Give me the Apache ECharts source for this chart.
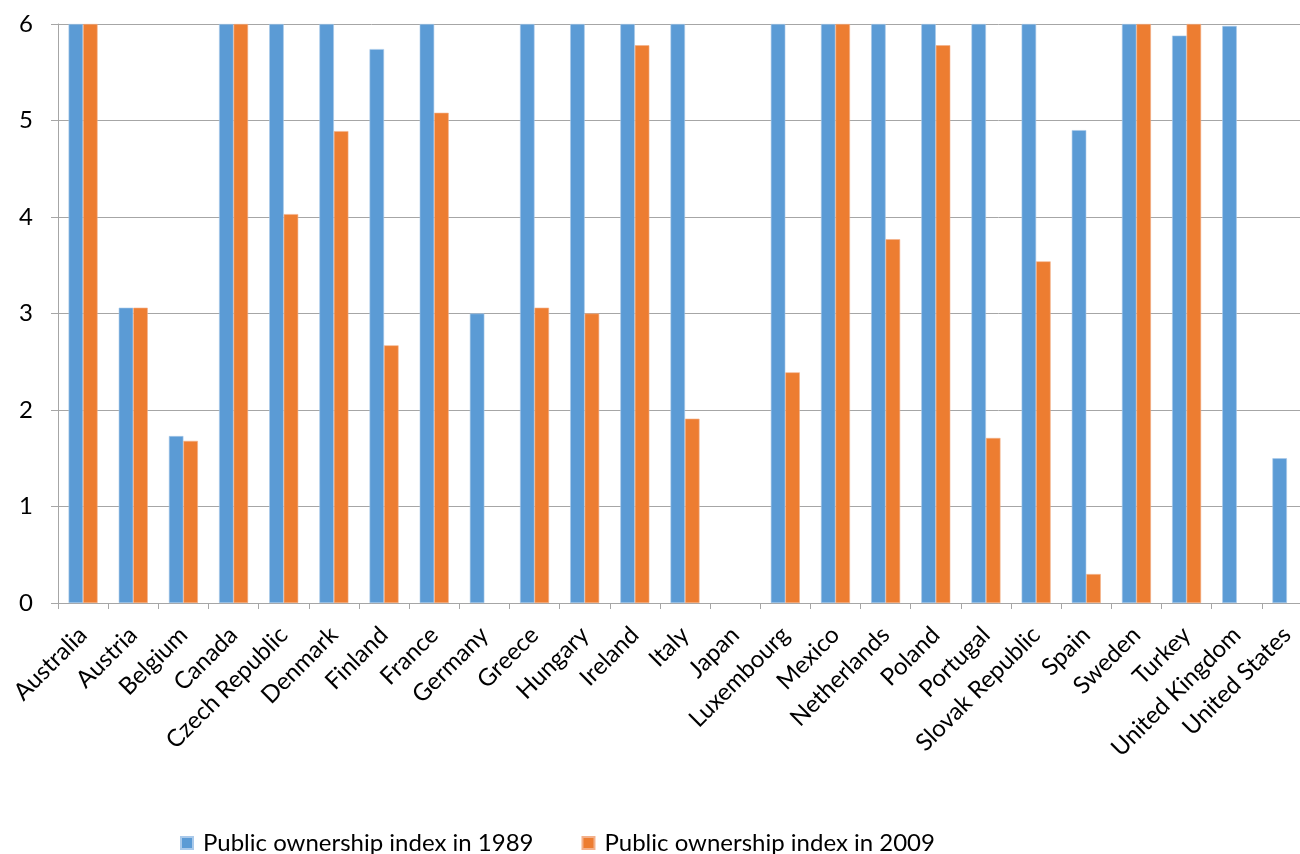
<!DOCTYPE html>
<html>
<head>
<meta charset="utf-8">
<script src="https://cdn.jsdelivr.net/npm/echarts@6/dist/echarts.min.js"></script>
<style>
  html, body { margin: 0; padding: 0; background: #ffffff; overflow: hidden; }
  /* the plot runs slightly past the right edge of the window */
  #chart { width: 1312px; height: 854px; }
</style>
</head>
<body>
<div id="chart"></div>
<script>
// Countries shown on the category axis
const countries = [
  'Australia', 'Austria', 'Belgium', 'Canada', 'Czech Republic', 'Denmark',
  'Finland', 'France', 'Germany', 'Greece', 'Hungary', 'Ireland', 'Italy',
  'Japan', 'Luxembourg', 'Mexico', 'Netherlands', 'Poland', 'Portugal',
  'Slovak Republic', 'Spain', 'Sweden', 'Turkey', 'United Kingdom', 'United States'
];

// Public ownership index, 1989 (null = no value)
const index1989 = [
  6, 3.06, 1.73, 6, 6, 6,
  5.74, 6, 3.0, 6, 6, 6, 6,
  null, 6, 6, 6, 6, 6,
  6, 4.90, 6, 5.88, 5.98, 1.50
];

// Public ownership index, 2009 (null = no value)
const index2009 = [
  6, 3.06, 1.68, 6, 4.03, 4.89,
  2.67, 5.08, null, 3.06, 3.0, 5.78, 1.91,
  null, 2.39, 6, 3.77, 5.78, 1.71,
  3.54, 0.30, 6, 6, null, null
];

const seriesNames = ['Public ownership index in 1989', 'Public ownership index in 2009'];
const yTicks = { min: 0, max: 6, interval: 1 };

const font = 'Lato, "Open Sans", sans-serif';
const chart = echarts.init(document.getElementById('chart'), null, { renderer: 'canvas' });

chart.setOption({
  animation: false,
  backgroundColor: '#ffffff',
  textStyle: { fontFamily: font, color: '#000' },
  grid: { left: 58, top: 24, bottom: 251, right: 0, containLabel: false },
  legend: {
    data: seriesNames,
    left: 175,
    top: 826,
    itemWidth: 12,
    itemHeight: 12,
    itemGap: 48,
    icon: 'rect',
    textStyle: { fontFamily: font, fontSize: 24, color: '#000', padding: [0, 0, 0, 5] }
  },
  xAxis: {
    type: 'category',
    data: countries,
    axisLine: { show: true, lineStyle: { color: '#a6a6a6', width: 1 } },
    axisTick: { show: true, length: 6, alignWithLabel: false, lineStyle: { color: '#a6a6a6' } },
    axisLabel: {
      interval: 0,
      rotate: 45,
      margin: 28,
      fontFamily: font,
      fontSize: 24,
      color: '#000'
    }
  },
  yAxis: {
    type: 'value',
    min: yTicks.min,
    max: yTicks.max,
    interval: yTicks.interval,
    axisLine: { show: true, lineStyle: { color: '#a6a6a6', width: 1 } },
    axisTick: { show: true, length: 7, lineStyle: { color: '#a6a6a6' } },
    splitLine: { show: true, lineStyle: { color: '#a6a6a6', width: 1 } },
    axisLabel: { margin: 25, fontFamily: font, fontSize: 24, color: '#000' }
  },
  series: [
    {
      name: seriesNames[0],
      type: 'bar',
      data: index1989,
      barWidth: 14.5,
      barGap: '0%',
      itemStyle: { color: '#5b9bd5', borderColor: '#a9c9ea', borderWidth: 0.6 }
    },
    {
      name: seriesNames[1],
      type: 'bar',
      data: index2009,
      barWidth: 14.5,
      barGap: '0%',
      itemStyle: { color: '#ed7d31', borderColor: '#f3b08a', borderWidth: 0.6 }
    }
  ]
});
</script>
</body>
</html>
